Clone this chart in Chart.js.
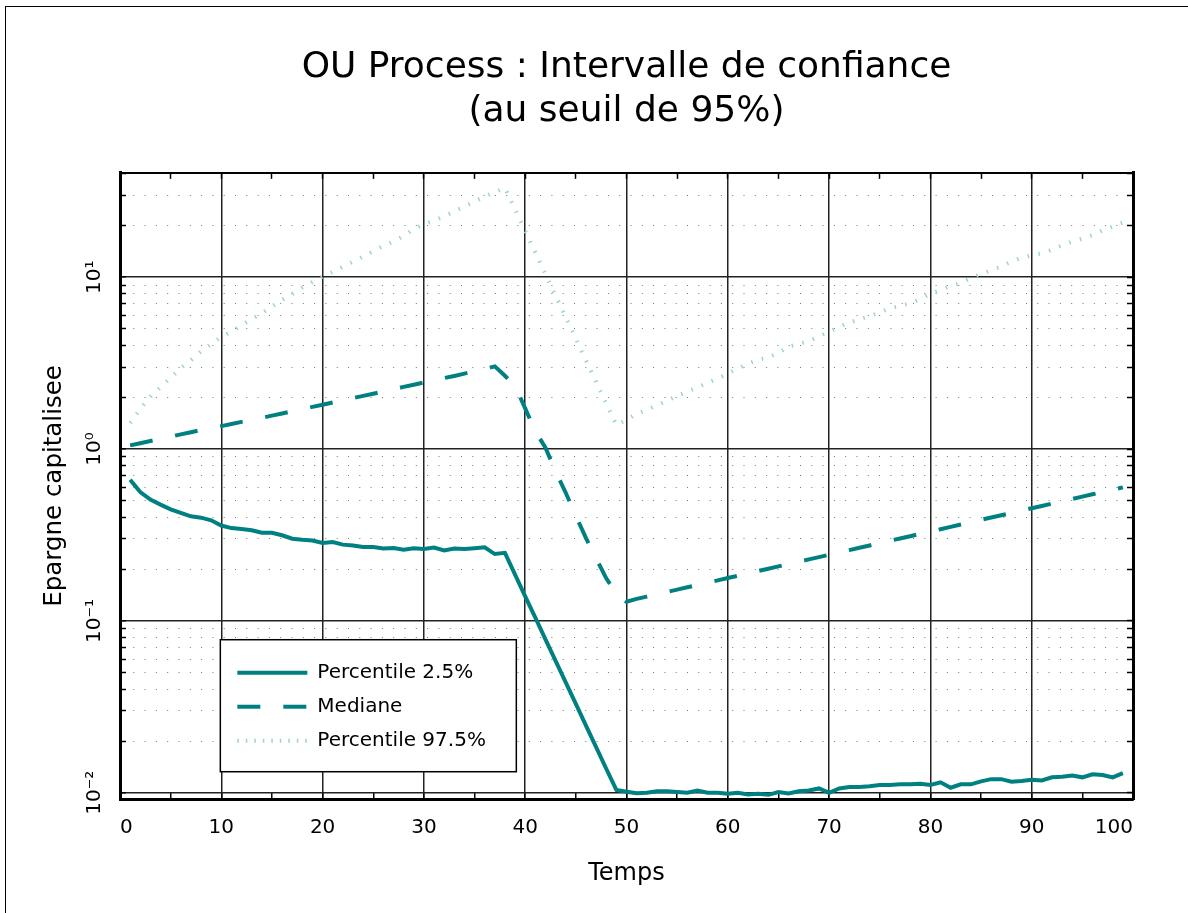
<!DOCTYPE html>
<html>
<head>
<meta charset="utf-8">
<script src="https://cdn.jsdelivr.net/npm/chart.js@4.4.1/dist/chart.umd.min.js"></script>
<style>
html,body{margin:0;padding:0;background:#fff;overflow:hidden;}
#wrap{position:relative;width:1188px;height:913px;overflow:hidden;background:#fff;}
#frame{position:absolute;left:5px;top:6px;width:1200px;height:920px;border-left:1px solid #000;border-top:1px solid #000;pointer-events:none;}
canvas{display:block;}
</style>
</head>
<body>
<div id="wrap"><canvas id="c" width="1188" height="913"></canvas><div id="frame"></div></div>
<script>
// ---------- DATA ----------
const chartTitle = ['OU Process : Intervalle de confiance', '(au seuil de 95%)'];
const xAxisTitle = 'Temps';
const yAxisTitle = 'Epargne capitalisee';
const seriesNames = ['Percentile 2.5%', 'Mediane', 'Percentile 97.5%'];

const times = [1,2,3,4,5,6,7,8,9,10,11,12,13,14,15,16,17,18,19,20,
  21,22,23,24,25,26,27,28,29,30,31,32,33,34,35,36,37,38,39,40,
  41,42,43,44,45,46,47,48,49,50,51,52,53,54,55,56,57,58,59,60,
  61,62,63,64,65,66,67,68,69,70,71,72,73,74,75,76,77,78,79,80,
  81,82,83,84,85,86,87,88,89,90,91,92,93,94,95,96,97,98,99];

const p025 = [0.664,0.562,0.508,0.475,0.446,0.425,0.406,0.399,0.385,0.359,
  0.347,0.343,0.337,0.326,0.326,0.315,0.301,0.297,0.294,0.284,
  0.288,0.278,0.275,0.269,0.269,0.264,0.266,0.260,0.265,0.262,
  0.267,0.257,0.264,0.262,0.265,0.268,0.245,0.249,0.186,0.139,
  0.1045,0.0782,0.0586,0.0439,0.0329,0.0246,0.01845,0.0138,0.0104,0.01015,
  0.00993,0.0100,0.0102,0.0102,0.0101,0.0100,0.0103,0.0100,0.0100,0.00987,
  0.0100,0.00978,0.00987,0.00973,0.0101,0.0099,0.0102,0.0103,0.0106,0.0100,
  0.0106,0.0108,0.0108,0.0109,0.0111,0.0111,0.0112,0.0112,0.0113,0.0111,
  0.0115,0.0107,0.0112,0.0112,0.01165,0.0120,0.0120,0.0116,0.0117,0.0119,
  0.0118,0.0123,0.0124,0.0126,0.0123,0.0128,0.0127,0.0123,0.0130];

const median = [1.051,1.082,1.115,1.148,1.182,1.218,1.254,1.291,1.325,1.360,
  1.400,1.440,1.478,1.520,1.565,1.612,1.660,1.710,1.760,1.810,
  1.866,1.920,1.980,2.040,2.100,2.165,2.230,2.300,2.370,2.440,
  2.510,2.590,2.665,2.750,2.840,2.930,3.030,2.670,2.330,1.725,
  1.269,1.019,0.742,0.557,0.409,0.303,0.2314,0.177,0.145,0.1294,
  0.1343,0.1385,0.1429,0.1474,0.1521,0.1569,0.1619,0.1670,0.1722,0.1777,
  0.1833,0.1891,0.1951,0.2013,0.2077,0.2142,0.2210,0.2280,0.2352,0.2427,
  0.2503,0.2583,0.2664,0.2749,0.2836,0.2925,0.3018,0.3113,0.3212,0.3313,
  0.3418,0.3526,0.3638,0.3753,0.3873,0.3995,0.4121,0.4252,0.4386,0.4525,
  0.4668,0.4817,0.4969,0.5126,0.5289,0.5456,0.5628,0.5807,0.5990];

const p975 = [1.42,1.71,2.02,2.29,2.60,2.96,3.29,3.70,4.08,4.49,
  4.83,5.26,5.71,6.17,6.75,7.38,7.98,8.71,9.38,10.09,
  10.72,11.51,12.30,13.18,14.19,15.24,16.14,17.38,19.05,20.32,
  21.38,22.59,24.15,25.82,27.61,29.51,31.26,33.1,24.8,18.58,
  13.92,10.42,7.81,5.85,4.38,3.28,2.458,1.841,1.380,1.48,
  1.60,1.69,1.80,1.91,2.04,2.16,2.28,2.43,2.57,2.75,
  2.94,3.14,3.31,3.41,3.63,3.94,4.10,4.25,4.52,4.82,
  5.14,5.44,5.69,5.93,6.24,6.58,6.79,7.05,7.48,8.02,
  8.43,8.91,9.27,9.89,10.47,10.99,11.53,12.36,13.00,13.43,
  13.74,14.45,15.35,16.11,16.75,17.58,18.75,19.72,20.80];

const xTickValues = [0,10,20,30,40,50,60,70,80,90,100];
const yDecades = [0.01, 0.1, 1, 10];
const yDecadeLabels = ['10\u207B\u00B2', '10\u207B\u00B9', '10\u2070', '10\u00B9'];
const yGridValues = [0.01,0.02,0.03,0.04,0.05,0.06,0.07,0.08,0.09,
  0.1,0.2,0.3,0.4,0.5,0.6,0.7,0.8,0.9,
  1,2,3,4,5,6,7,8,9,
  10,20,30,40];

// ---------- STYLE ----------
const TEAL = '#008080';
const PALE = '#9fd2d2';
const lineDashes = [[], [23, 23], [1.5, 9.5]];
const legendDashes = [[], [23, 23], [1.5, 7]];
const lineWidths = [4, 4, 4];
Chart.defaults.font.family = "'DejaVu Sans', sans-serif";
Chart.defaults.color = '#000';

const isDecade = v => Math.abs(Math.log10(v) - Math.round(Math.log10(v))) < 1e-9;
const pts = vals => times.map((t, i) => ({x: t, y: vals[i]}));
const setYTicks = s => { s.ticks = yGridValues.map(v => ({value: v})); };

const legendPlacer = {
  id: 'legendPlacer',
  afterUpdate(chart) {
    const lg = chart.legend, ca = chart.chartArea;
    if (!lg) return;
    lg.left = ca.left + 0.102 * ca.width;
    lg.top = ca.top + 0.76 * ca.height;
    lg.right = lg.left + 300;
    lg.bottom = lg.top + 125;
    if (!lg._framed) {
      const orig = lg.draw.bind(lg);
      lg.draw = function (area) {
        const ctx = this.ctx;
        ctx.save();
        ctx.fillStyle = '#fff';
        ctx.strokeStyle = '#000';
        ctx.lineWidth = 1.5;
        ctx.fillRect(this.left - 3, this.top - 9, 296, 132);
        ctx.strokeRect(this.left - 3, this.top - 9, 296, 132);
        ctx.restore();
        orig(area);
      };
      lg._framed = true;
    }
  }
};

new Chart(document.getElementById('c'), {
  type: 'line',
  data: {
    datasets: [
      { label: seriesNames[0], data: pts(p025), borderColor: TEAL, backgroundColor: TEAL,
        borderWidth: lineWidths[0], borderDash: lineDashes[0], pointRadius: 0, fill: false, tension: 0 },
      { label: seriesNames[1], data: pts(median), borderColor: TEAL, backgroundColor: TEAL,
        borderWidth: lineWidths[1], borderDash: lineDashes[1], pointRadius: 0, fill: false, tension: 0 },
      { label: seriesNames[2], data: pts(p975), borderColor: PALE, backgroundColor: PALE,
        borderWidth: lineWidths[2], borderDash: lineDashes[2], pointRadius: 0, fill: false, tension: 0 }
    ]
  },
  options: {
    responsive: false,
    animation: false,
    devicePixelRatio: 1,
    layout: { padding: { left: 0, right: 55, top: 0, bottom: 0 } },
    plugins: {
      title: {
        display: true, text: chartTitle, fullSize: false, color: '#000',
        font: { size: 36, weight: 'normal', lineHeight: 1.22 },
        padding: { top: 46, bottom: 39 }
      },
      legend: {
        position: 'chartArea', align: 'start',
        labels: {
          usePointStyle: true, pointStyle: 'line', pointStyleWidth: 70, boxHeight: 20,
          color: '#000', font: { size: 20 }, padding: 14,
          generateLabels: chart => {
            const items = Chart.defaults.plugins.legend.labels.generateLabels(chart);
            items.forEach(it => {
              const ds = chart.data.datasets[it.datasetIndex];
              it.lineDash = legendDashes[it.datasetIndex];
              it.strokeStyle = ds.borderColor;
              it.lineWidth = ds.borderWidth;
              it.lineCap = 'butt';
              it.pointStyle = 'line';
            });
            return items;
          }
        }
      },
      tooltip: { enabled: false }
    },
    scales: {
      x: {
        type: 'linear', position: 'bottom', min: 0, max: 100,
        ticks: { stepSize: 5, autoSkip: false, minRotation: 0, maxRotation: 0, padding: 23,
          align: 'inner', color: '#000', font: { size: 20 },
          callback: v => xTickValues.includes(v) ? String(v) : '' },
        grid: { color: c => (c.tick && c.tick.value % 10 === 0) ? '#222' : 'rgba(0,0,0,0)',
          lineWidth: 1.5, tickLength: -6, tickColor: '#000', tickWidth: 1.5 },
        border: { color: '#000', width: 3 },
        title: { display: true, text: xAxisTitle, color: '#000', font: { size: 24 },
          padding: { top: 0, bottom: 24.6 } },
        afterFit: s => { s.height = 114; }
      },
      x2: {
        type: 'linear', position: 'top', min: 0, max: 100,
        ticks: { stepSize: 5, display: false, autoSkip: false },
        grid: { drawOnChartArea: false, tickLength: -6, tickColor: '#000', tickWidth: 1.5 },
        border: { color: '#000', width: 2 },
        afterFit: s => { s.height = 0; }
      },
      y: {
        type: 'logarithmic', position: 'left', min: 0.0092, max: 40.5,
        afterBuildTicks: setYTicks,
        ticks: { autoSkip: false, minRotation: 90, maxRotation: 90, crossAlign: 'center',
          padding: 9, color: '#000', font: { size: 20 },
          callback: v => { const i = yDecades.indexOf(v); return i >= 0 ? yDecadeLabels[i] : ''; } },
        grid: { color: c => (c.tick && isDecade(c.tick.value)) ? '#222' : '#777',
          lineWidth: c => (c.tick && isDecade(c.tick.value)) ? 1.5 : 1,
          tickLength: -6, tickColor: '#000', tickWidth: 1.5 },
        border: { color: '#000', width: 3,
          dash: c => (c.tick && !isDecade(c.tick.value)) ? [1, 10.3] : [] },
        title: { display: true, text: yAxisTitle, color: '#000', font: { size: 24.5 },
          padding: { top: 40.3, bottom: 0 } },
        afterFit: s => { s.width = 120; }
      },
      y2: {
        type: 'logarithmic', position: 'right', min: 0.0092, max: 40.5,
        afterBuildTicks: setYTicks,
        ticks: { display: false, autoSkip: false },
        grid: { drawOnChartArea: false, tickLength: -6, tickColor: '#000', tickWidth: 1.5 },
        border: { color: '#000', width: 3 },
        afterFit: s => { s.width = 0; }
      }
    }
  },
  plugins: [legendPlacer]
});
</script>
</body>
</html>
